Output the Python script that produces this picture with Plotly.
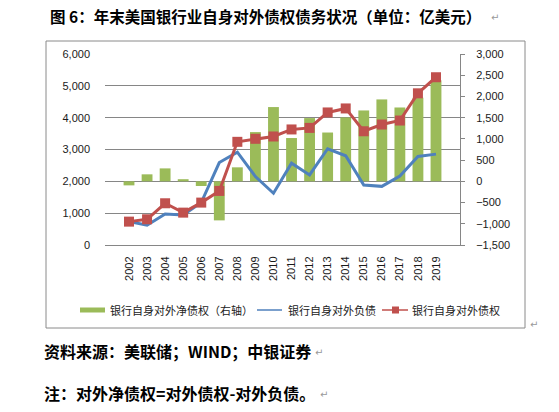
import plotly.graph_objects as go

# data (unit: 100 million USD)
years = ["2002", "2003", "2004", "2005", "2006", "2007", "2008", "2009", "2010",
         "2011", "2012", "2013", "2014", "2015", "2016", "2017", "2018", "2019"]
net_claims = [-95, 165, 305, 50, -110, -920, 330, 1160, 1750,
              1020, 1490, 1150, 1505, 1670, 1930, 1740, 1970, 2380]
liabilities = [740, 620, 976, 944, 1335, 2591, 2916, 2150, 1626,
               2570, 2200, 3024, 2802, 1884, 1842, 2169, 2781, 2855]
claims = [734, 808, 1311, 1017, 1332, 1699, 3241, 3336, 3409,
          3630, 3679, 4164, 4290, 3573, 3784, 3910, 4765, 5270]

left_ticks = [0, 1000, 2000, 3000, 4000, 5000, 6000]
right_ticks = [-1500, -1000, -500, 0, 500, 1000, 1500, 2000, 2500, 3000]

names = ["银行自身对外净债权（右轴）", "银行自身对外负债", "银行自身对外债权"]
colors = ["#9BBB59", "#4F81BD", "#C0504D"]

W, H = 559, 412
L, R, T, B = 105, 460, 54, 245   # plot area in pixels


def px(x):
    return (x - L) / (R - L)


def py(y):
    return (B - y) / (B - T)


tick_font = dict(family="Liberation Sans, Arial", size=11, color="#1a1a1a")
cjk = "Noto Sans CJK SC"

fig = go.Figure()

# bars on the right axis (primary y, drawn first so lines sit on top)
fig.add_trace(go.Bar(
    x=years, y=net_claims, name=names[0],
    marker=dict(color=colors[0], line=dict(width=0)),
    width=0.6, yaxis="y",
))
fig.add_trace(go.Scatter(
    x=years, y=liabilities, name=names[1], mode="lines",
    line=dict(color=colors[1], width=3), yaxis="y2",
))
fig.add_trace(go.Scatter(
    x=years, y=claims, name=names[2], mode="lines+markers",
    line=dict(color=colors[2], width=3),
    marker=dict(symbol="square", size=10, color=colors[2]),
    yaxis="y2",
))

fig.update_layout(
    width=W, height=H,
    margin=dict(l=L, r=W - R, t=T, b=H - B),
    paper_bgcolor="white", plot_bgcolor="white",
    showlegend=False,
    xaxis=dict(
        type="category", tickangle=-90, tickfont=tick_font,
        showgrid=False, showline=True, linecolor="#868686", linewidth=1,
        ticks="", ticklabelstandoff=6,
    ),
    yaxis=dict(
        side="right", range=[-1500, 3000], tickvals=right_ticks,
        tickformat=",", showgrid=False, zeroline=False,
        showline=True, linecolor="#868686", linewidth=1,
        ticks="outside", ticklen=4, tickcolor="#868686",
        tickfont=tick_font, ticklabelstandoff=9,
    ),
    yaxis2=dict(
        side="left", overlaying="y", range=[0, 6000], tickvals=left_ticks,
        tickformat=",", showgrid=True, gridcolor="#868686", gridwidth=1,
        zeroline=False, showline=False, ticks="",
        tickfont=tick_font, ticklabelstandoff=14,
    ),
)

# outer frame around the chart
fig.add_shape(type="rect", xref="paper", yref="paper",
              x0=px(46), x1=px(525), y0=py(41), y1=py(328),
              line=dict(color="#8a8a8a", width=1), layer="below")

# legend drawn by hand to get the Excel-style swatches and spacing
leg_y = 310
fig.add_shape(type="rect", xref="paper", yref="paper",
              x0=px(80), x1=px(105), y0=py(leg_y + 2.5), y1=py(leg_y - 2.5),
              fillcolor=colors[0], line=dict(width=0))
fig.add_shape(type="line", xref="paper", yref="paper",
              x0=px(257), x1=px(282), y0=py(leg_y), y1=py(leg_y),
              line=dict(color=colors[1], width=1.5))
fig.add_shape(type="line", xref="paper", yref="paper",
              x0=px(382), x1=px(408), y0=py(leg_y), y1=py(leg_y),
              line=dict(color=colors[2], width=1.5))
fig.add_shape(type="rect", xref="paper", yref="paper",
              x0=px(392), x1=px(399), y0=py(leg_y + 3.5), y1=py(leg_y - 3.5),
              fillcolor=colors[2], line=dict(width=0))
for tx, name in zip([108, 286, 410], names):
    fig.add_annotation(text=name, xref="paper", yref="paper",
                       x=px(tx), y=py(leg_y), xanchor="left", yanchor="middle",
                       showarrow=False, font=dict(family=cjk, size=11, color="#222"))

title = "图 6：年末美国银行业自身对外债权债务状况（单位：亿美元）"
fig.add_annotation(text="<b>" + title + "</b>", xref="paper", yref="paper",
                   x=px(48), y=py(16), xanchor="left", yanchor="middle",
                   showarrow=False, font=dict(family=cjk, size=15.5, color="#000"))
fig.add_annotation(text="<b>资料来源：美联储；WIND；中银证券</b>", xref="paper", yref="paper",
                   x=px(42), y=py(351), xanchor="left", yanchor="middle",
                   showarrow=False, font=dict(family=cjk, size=16, color="#000"))
fig.add_annotation(text="<b>注：对外净债权=对外债权-对外负债。</b>", xref="paper", yref="paper",
                   x=px(42), y=py(393), xanchor="left", yanchor="middle",
                   showarrow=False, font=dict(family=cjk, size=16, color="#000"))

# paragraph marks as in the source document
for mx, my in [(489, 17), (313, 352), (318, 394), (528, 324)]:
    fig.add_annotation(text="↵", xref="paper", yref="paper", x=px(mx), y=py(my),
                       xanchor="left", yanchor="middle", showarrow=False,
                       font=dict(family="DejaVu Sans", size=10, color="#999"))

# drop the default page margin so the figure sits at the window's corner
fig.write_html("out.html", config={"displayModeBar": False},
               post_script="document.body.style.margin='0';")
